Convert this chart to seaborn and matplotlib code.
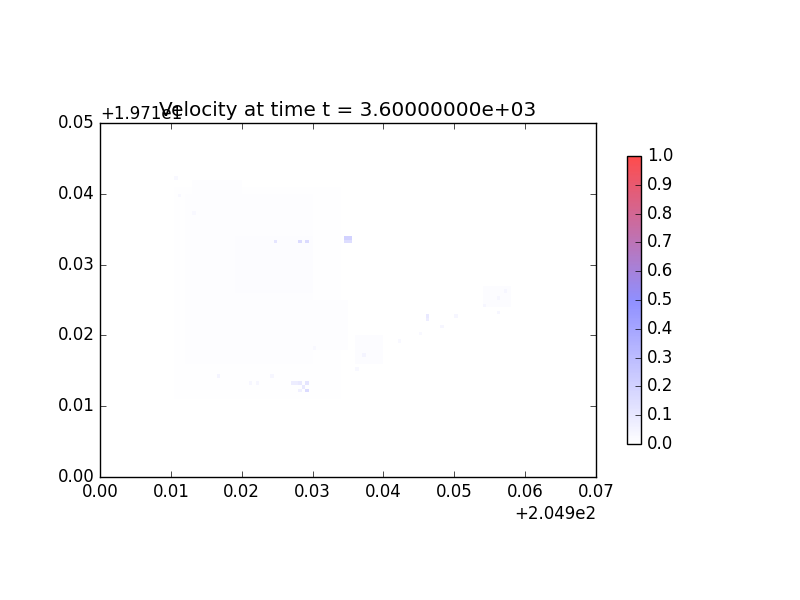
import numpy as np
import matplotlib
matplotlib.use("Agg")
import matplotlib.pyplot as plt
from matplotlib.ticker import ScalarFormatter, MultipleLocator
import seaborn as sns

plt.style.use("classic")

# grid origin / size (data units)
x_origin = 204.9
y_origin = 19.71
x_span = 0.07
y_span = 0.05
cell = 0.0005

# faint areas: (x0, x1, y0, y1, value), offsets from origin
faint_x0 = [0.0106, 0.0120, 0.0190, 0.0200, 0.0130, 0.0360, 0.0540]
faint_x1 = [0.0340, 0.0300, 0.0300, 0.0350, 0.0200, 0.0400, 0.0580]
faint_y0 = [0.0110, 0.0160, 0.0260, 0.0180, 0.0380, 0.0160, 0.0240]
faint_y1 = [0.0410, 0.0400, 0.0340, 0.0250, 0.0420, 0.0200, 0.0270]
faint_val = [0.006, 0.009, 0.014, 0.010, 0.010, 0.012, 0.015]

# brighter single cells: x, y offsets and value
spot_x = [0.0247, 0.0283, 0.0290, 0.0348, 0.0353, 0.0348, 0.0353, 0.0463, 0.0463,
          0.0291, 0.0270, 0.0275, 0.0280, 0.0285, 0.0290, 0.0280, 0.0167, 0.0212,
          0.0220, 0.0374, 0.0420, 0.0450, 0.0480, 0.0500, 0.0540, 0.0560, 0.0570,
          0.0110, 0.0106, 0.0130, 0.0240, 0.0300, 0.0360, 0.0560]
spot_y = [0.0332, 0.0332, 0.0332, 0.0337, 0.0337, 0.0332, 0.0332, 0.0225, 0.0220,
          0.0123, 0.0130, 0.0130, 0.0130, 0.0125, 0.0130, 0.0120, 0.0141, 0.0130,
          0.0130, 0.0172, 0.0190, 0.0200, 0.0210, 0.0225, 0.0240, 0.0250, 0.0260,
          0.0395, 0.0420, 0.0370, 0.0140, 0.0180, 0.0150, 0.0230]
spot_val = [0.12, 0.16, 0.16, 0.20, 0.20, 0.15, 0.15, 0.10, 0.08,
            0.16, 0.08, 0.08, 0.10, 0.10, 0.12, 0.07, 0.05, 0.04,
            0.04, 0.05, 0.03, 0.03, 0.04, 0.04, 0.04, 0.04, 0.04,
            0.03, 0.03, 0.03, 0.04, 0.03, 0.03, 0.04]

nx = int(round(x_span / cell))
ny = int(round(y_span / cell))
xe = x_origin + np.linspace(0, x_span, nx + 1)
ye = y_origin + np.linspace(0, y_span, ny + 1)

speed = np.zeros((ny, nx))
for x0, x1, y0, y1, v in zip(faint_x0, faint_x1, faint_y0, faint_y1, faint_val):
    i0, i1 = int(y0 / cell), int(y1 / cell)
    j0, j1 = int(x0 / cell), int(x1 / cell)
    speed[i0:i1, j0:j1] = np.maximum(speed[i0:i1, j0:j1], v)
for x, y, v in zip(spot_x, spot_y, spot_val):
    speed[int(y / cell), int(x / cell)] = v

cmap = sns.blend_palette(["white", "#6060ff", "red"], as_cmap=True)

fig = plt.figure(figsize=(8, 6), dpi=100, facecolor="white")
ax = fig.add_subplot(111)
mesh = ax.pcolormesh(xe, ye, speed, cmap=cmap, vmin=0, vmax=1, alpha=0.7)
ax.set_xlim(x_origin, x_origin + x_span)
ax.set_ylim(y_origin, y_origin + y_span)
ax.set_aspect("equal")

xfmt = ScalarFormatter(useOffset=x_origin)
yfmt = ScalarFormatter(useOffset=y_origin)
ax.xaxis.set_major_formatter(xfmt)
ax.yaxis.set_major_formatter(yfmt)
ax.xaxis.set_major_locator(MultipleLocator(0.01))
ax.yaxis.set_major_locator(MultipleLocator(0.01))

ax.set_title("Velocity at time t = 3.60000000e+03")
fig.colorbar(mesh, ax=ax, shrink=0.6, ticks=np.arange(0, 1.01, 0.1))

fig.savefig("out.png", dpi=100, facecolor="white")
